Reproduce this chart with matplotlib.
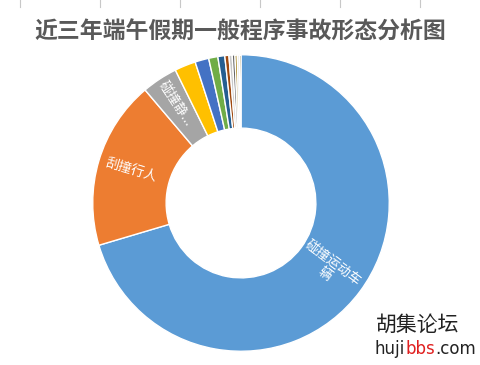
import numpy as np
import matplotlib
matplotlib.use("Agg")
import matplotlib.pyplot as plt
from matplotlib.lines import Line2D

plt.rcParams['font.family'] = ['Noto Sans CJK SC', 'DejaVu Sans']

# === Datos ===
titulo = "近三年端午假期一般程序事故形态分析图"
categorias = ["碰撞运动车\n辆", "刮撞行人", "碰撞静...", "", "", "", "", "", "", "", "", "", ""]
valores = [70.4, 18.4, 3.9, 2.3, 1.5, 1.0, 0.75, 0.45, 0.35, 0.3, 0.25, 0.22, 0.18]
colores = ["#5B9BD5", "#ED7D31", "#A5A5A5", "#FFC000", "#4472C4", "#70AD47",
           "#255E91", "#9E480E", "#C9C9C9", "#636363", "#997300", "#D9D9D9", "#7F6000"]

fig = plt.figure(figsize=(4.81, 3.65), dpi=100)
fig.patch.set_facecolor("white")

# lineas grises de la tabla recortada arriba
for xp in [20, 100, 180, 260, 340, 420]:
    fig.add_artist(Line2D([xp / 481, xp / 481], [1, 1 - 7 / 365], color="#C8C8C8", lw=0.8))

ax = fig.add_axes([(241 - 149) / 481, 13 / 365, 298 / 481, 298 / 365])
wedges, _ = ax.pie(valores, colors=colores, startangle=90, counterclock=False,
                   wedgeprops=dict(width=0.495, edgecolor="white", linewidth=1.0))
ax.set_xlim(-1.005, 1.005)
ax.set_ylim(-1.005, 1.005)
ax.set_aspect("equal")

# etiquetas dentro del anillo, orientadas en direccion radial
radios = {0: 0.74, 1: 0.77, 2: 0.80}
for i, r in radios.items():
    w = wedges[i]
    ang = (w.theta1 + w.theta2) / 2
    rad = np.deg2rad(ang)
    rot = ang if -90 <= ang <= 90 else ang - 180
    ax.text(r * np.cos(rad), r * np.sin(rad), categorias[i], color="white",
            fontsize=9.5, ha="center", va="center", rotation=rot,
            rotation_mode="anchor", linespacing=1.2)

fig.text(240 / 481, 1 - 32 / 365, titulo, ha="center", va="center",
         fontsize=16.5, fontweight="bold", color="#595959")

# marca de agua
fig.text(418 / 481, 1 - 325 / 365, "胡集论坛", ha="center", va="center",
         fontsize=15, color="#222222")
renderer = fig.canvas.get_renderer()
x = 375
for trozo, col in [("huji", "#222222"), ("bbs", "#E02020"), (".com", "#222222")]:
    t = fig.text(x / 481, 1 - 349 / 365, trozo, ha="left", va="center",
                 fontsize=12, color=col, family="DejaVu Sans")
    x += t.get_window_extent(renderer).width

fig.savefig("out.png", dpi=100)
